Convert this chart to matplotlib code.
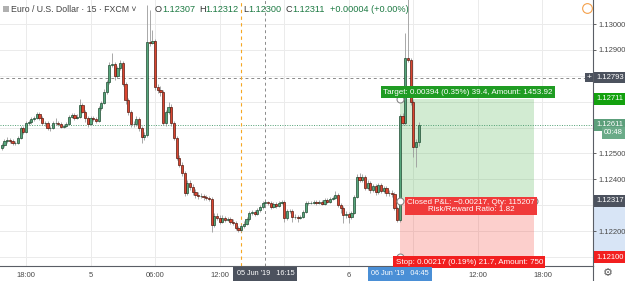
import numpy as np
import pandas as pd
import matplotlib
matplotlib.use("Agg")
import matplotlib.pyplot as plt
import matplotlib.transforms as mtransforms
from matplotlib.patches import Rectangle
from matplotlib.lines import Line2D

plt.rcParams['font.family'] = ['Liberation Sans', 'DejaVu Sans']

# EURUSD 15 min, prices as points (1e-5) above 1.12000, first bar 04 Jun 15:45
base = 1.12
opens = [521, 533, 548, 552, 548, 541, 541, 560, 598,
         583, 618, 622, 633, 637, 653, 637, 618, 618, 598,
         598, 618, 618, 614, 602, 606, 614, 641, 649, 637,
         641, 687, 660, 637, 614, 637, 633, 625, 676, 695,
         737, 776, 842, 846, 799, 830, 849, 768, 707, 660,
         614, 614, 633, 598, 564, 571, 931, 927, 934, 757,
         745, 737, 618, 660, 680, 618, 560, 483, 456, 425,
         347, 386, 371, 351, 340, 336, 336, 332, 328, 324,
         224, 259, 251, 236, 251, 243, 247, 236, 232, 212,
         205, 220, 228, 247, 270, 274, 266, 282, 293, 307,
         311, 309, 293, 305, 297, 309, 313, 251, 278, 278,
         255, 255, 251, 255, 274, 309, 309, 309, 313, 309,
         313, 305, 320, 313, 324, 328, 340, 301, 290, 263,
         266, 255, 270, 332, 409, 398, 409, 367, 386, 359,
         375, 351, 378, 355, 367, 347, 347, 344, 290, 243,
         645, 618, 869, 861, 699, 525, 544]
highs = [541, 556, 564, 560, 556, 548, 568, 606, 606,
         625, 629, 641, 645, 660, 660, 645, 625, 625, 606,
         625, 637, 625, 622, 614, 622, 649, 656, 656, 653,
         710, 695, 668, 645, 645, 645, 641, 683, 703, 749,
         784, 853, 888, 853, 838, 861, 857, 776, 714, 668,
         625, 645, 641, 606, 583, 1073, 1054, 977, 942, 768,
         761, 745, 668, 699, 691, 625, 568, 494, 467, 432,
         398, 398, 382, 363, 351, 347, 344, 340, 336, 332,
         270, 270, 263, 263, 259, 255, 255, 247, 239, 220,
         228, 239, 255, 278, 282, 282, 290, 301, 317, 312,
         317, 317, 313, 313, 317, 320, 320, 286, 286, 286,
         266, 263, 263, 282, 317, 317, 317, 320, 320, 320,
         320, 328, 328, 332, 336, 355, 347, 309, 297, 278,
         274, 278, 340, 421, 425, 421, 417, 398, 394, 382,
         382, 386, 386, 375, 375, 359, 359, 351, 297, 653,
         656, 965, 1131, 869, 707, 556, 622]
lows = [514, 525, 541, 541, 533, 533, 537, 556, 575,
        579, 610, 614, 625, 633, 629, 610, 606, 591, 587,
        595, 610, 606, 598, 598, 602, 610, 637, 629, 633,
        637, 656, 622, 602, 610, 625, 618, 622, 668, 691,
        730, 768, 834, 784, 791, 822, 761, 691, 649, 602,
        602, 606, 587, 541, 552, 564, 915, 923, 745, 734,
        722, 610, 606, 653, 606, 552, 475, 448, 413, 336,
        340, 359, 340, 328, 324, 328, 320, 320, 317, 197,
        216, 243, 228, 232, 236, 239, 228, 224, 205, 197,
        197, 212, 224, 239, 263, 259, 263, 274, 286, 300,
        301, 286, 290, 290, 293, 305, 236, 243, 270, 236,
        247, 236, 247, 251, 270, 301, 305, 305, 301, 305,
        301, 301, 309, 309, 320, 324, 293, 270, 232, 251,
        232, 247, 266, 328, 390, 390, 359, 359, 347, 351,
        340, 344, 347, 347, 336, 336, 332, 282, 236, 236,
        610, 610, 853, 687, 487, 448, 529]
closes = [533, 548, 552, 548, 541, 541, 560, 598, 583,
          618, 622, 633, 637, 653, 637, 618, 618, 598, 598,
          618, 618, 614, 602, 606, 614, 641, 649, 637, 641,
          687, 660, 637, 614, 637, 633, 625, 676, 695, 737,
          776, 842, 846, 799, 830, 849, 768, 707, 660, 614,
          614, 633, 598, 564, 571, 931, 927, 934, 757, 745,
          737, 618, 660, 680, 618, 560, 483, 456, 425, 347,
          386, 371, 351, 340, 336, 336, 332, 328, 324, 224,
          259, 251, 236, 251, 243, 247, 236, 232, 212, 205,
          220, 228, 247, 270, 274, 266, 282, 293, 309, 311,
          309, 293, 305, 297, 309, 313, 251, 278, 278, 255,
          255, 251, 255, 274, 309, 309, 309, 313, 309, 313,
          305, 320, 313, 324, 328, 340, 301, 290, 263, 266,
          255, 270, 332, 409, 398, 409, 367, 386, 359, 375,
          351, 378, 355, 367, 347, 347, 344, 290, 243, 645,
          618, 869, 861, 699, 525, 544, 611]

time_labels = ['18:00', '5', '06:00', '12:00', '6', '12:00', '18:00']
time_label_at = ['2019-06-04 18:00', '2019-06-05 00:00', '2019-06-05 06:00', '2019-06-05 12:00',
                 '2019-06-06 00:00', '2019-06-06 12:00', '2019-06-06 18:00']
price_ticks = [1.13000, 1.12900, 1.12500, 1.12400, 1.12200]

# long position tool
entry, target, stop = 1.12317, 1.12711, 1.12100
pos_start, pos_end = '2019-06-06 04:45', '2019-06-06 17:15'
last_price = 1.12611
cross_price, cross_time = 1.12793, '2019-06-05 16:15'

o = base + np.array(opens) / 1e5
h = base + np.array(highs) / 1e5
l = base + np.array(lows) / 1e5
c = base + np.array(closes) / 1e5

t0 = pd.Timestamp('2019-06-04 15:45')
step = pd.Timedelta('15min')


def pos(ts):
    return (pd.Timestamp(ts) - t0) / step


x = np.arange(len(c))
up = c >= o

W, H = 625, 281
fig = plt.figure(figsize=(W / 100, H / 100), dpi=100)
ax = fig.add_axes([0, 15 / H, 593 / W, 266 / H])
ax.set_xlim(-0.67, 219.8)
ax.set_ylim(1.120656, 1.130927)

# grid
for p in np.arange(1.121, 1.1305, 0.001):
    ax.axhline(p, color='#ebebeb', lw=0.7, zorder=0)
for t in pd.date_range('2019-06-04 18:00', '2019-06-06 18:00', freq='6h'):
    ax.axvline(pos(t), color='#ebebeb', lw=0.7, zorder=0)

# position areas
p0, p1 = pos(pos_start), pos(pos_end)
ax.add_patch(Rectangle((p0, entry), p1 - p0, target - entry, fc=(0.30, 0.69, 0.31, 0.25), ec='none', zorder=1))
ax.add_patch(Rectangle((p0, stop), p1 - p0, entry - stop, fc=(0.96, 0.26, 0.21, 0.25), ec='none', zorder=1))

# lines
ax.axhline(last_price, color='#4f9e72', ls=(0, (1, 1.5)), lw=0.7, zorder=1.5)
ax.axhline(cross_price, color='#8a8a8a', ls=(0, (3, 3)), lw=0.7, zorder=1.5)
ax.axvline(pos(cross_time), color='#8a8a8a', ls=(0, (3, 3)), lw=0.7, zorder=1.5)
ax.axvline(pos('2019-06-05 14:00'), color='#f5a623', ls=(0, (3, 3)), lw=0.8, zorder=1.5)

# candles
ax.vlines(x, l, h, color='#9a9a9a', lw=0.6, zorder=2)
ax.bar(x[up], (c - o)[up], bottom=o[up], width=0.8, color='#56a67c', edgecolor='#1f4a31', lw=0.5, zorder=3)
ax.bar(x[~up], (c - o)[~up], bottom=o[~up], width=0.8, color='#dc4530', edgecolor='#561a10', lw=0.5, zorder=3)

# handles
ax.plot([p0, p0, p1, p0], [target, entry, entry, stop], 'o', ms=5, mfc='white', mec='#888888',
        mew=0.8, zorder=6, clip_on=False)

ax.text(173.4, 1.12737, 'Target: 0.00394 (0.35%) 39.4, Amount: 1453.92', ha='center', va='center',
        fontsize=5.8, color='white', zorder=7,
        bbox=dict(boxstyle='square,pad=0.3', fc='#1f9c23', ec='none'))
ax.text(174.5, 1.12297, 'Closed P&L: \u22120.00217, Qty: 115207\nRisk/Reward Ratio: 1.82', ha='center',
        va='center', fontsize=5.8, color='white', zorder=7, linespacing=0.95,
        bbox=dict(boxstyle='square,pad=0.25', fc='#f03a3a', ec='none'))
ax.text(173.8, 1.12081, 'Stop: 0.00217 (0.19%) 21.7, Amount: 750', ha='center', va='center',
        fontsize=5.8, color='white', zorder=7, clip_on=False,
        bbox=dict(boxstyle='square,pad=0.3', fc='#f21f1f', ec='none'))

# axes look
for s in ['top', 'left']:
    ax.spines[s].set_visible(False)
for s in ['right', 'bottom']:
    ax.spines[s].set_color('#5a5e66')
    ax.spines[s].set_linewidth(0.8)

ax.yaxis.tick_right()
ax.set_yticks(price_ticks)
ax.set_yticklabels(['%.5f' % p for p in price_ticks])
ax.tick_params(axis='y', labelsize=5.5, colors='#4a4a4a', length=2, pad=2, width=0.6)
ax.set_xticks([pos(t) for t in time_label_at])
ax.set_xticklabels(time_labels)
ax.tick_params(axis='x', labelsize=5.5, colors='#4a4a4a', length=0, pad=4)

# price axis marks
ty = mtransforms.blended_transform_factory(ax.transAxes, ax.transData)
ax.add_patch(Rectangle((1.0, stop), 32 / 593, entry - stop, transform=ty, fc='#d8e5f6', ec='none',
                       clip_on=False, zorder=0.5))


def price_tag(price, text, fc, px=3):
    ax.text(1.0 + px / 593, price, text, transform=ty, ha='left', va='center', fontsize=5.5,
            color='white', zorder=8, clip_on=False,
            bbox=dict(boxstyle='square,pad=0.3', fc=fc, ec='none'))


price_tag(cross_price, '%.5f' % cross_price, '#4c525e')
price_tag(target, '%.5f' % target, '#13a10e')
price_tag(last_price, '%.5f' % last_price, '#5c9f7b')
price_tag(1.12580, '00:48', '#6aab88', px=11)
price_tag(entry, '%.5f' % entry, '#4c525e')
price_tag(stop, '%.5f' % stop, '#f21f1f')
ax.text(1.0 - 4 / 593, cross_price, '+', transform=ty, ha='center', va='center', fontsize=6,
        color='white', zorder=8, clip_on=False, bbox=dict(boxstyle='square,pad=0.15', fc='#4c525e', ec='none'))

# time axis marks
tx = mtransforms.blended_transform_factory(ax.transData, ax.transAxes)
ax.text(pos(cross_time), -0.03, "05 Jun '19   16:15", transform=tx, ha='center', va='center',
        fontsize=5.2, color='white', clip_on=False, zorder=8,
        bbox=dict(boxstyle='square,pad=0.45', fc='#4c525e', ec='none'))
ax.text(pos(pos_start), -0.03, "06 Jun '19   04:45", transform=tx, ha='center', va='center',
        fontsize=5.2, color='white', clip_on=False, zorder=8,
        bbox=dict(boxstyle='square,pad=0.45', fc='#4a8fd6', ec='none'))

fig.add_artist(Line2D([593 / W, 593 / W], [0, 15 / H], color='#5a5e66', lw=0.8, transform=fig.transFigure))
fig.text(608 / W, 1 - 273 / H, '\u2699', fontsize=8, color='#555555', ha='center', va='center',
         family='DejaVu Sans')

# header legend
fig.add_artist(Rectangle((3 / W, 1 - 12 / H), 6 / W, 6 / H, fc='#b0b0b0', ec='none', transform=fig.transFigure))
r = fig.canvas.get_renderer()


def run_text(px, py, parts, size=6.6):
    for s, col in parts:
        t = fig.text(px / W, 1 - py / H, s, color=col, fontsize=size, va='center')
        px += t.get_window_extent(renderer=r).width
    return px


run_text(11, 9, [('Euro / U.S. Dollar \u00b7 15 \u00b7 FXCM', '#444444'), (' \u02c5', '#444444')], size=6.3)
dark, green = '#333333', '#1d7a43'
run_text(155, 9, [('O', dark), ('1.12307', green)])
run_text(199, 9, [('H', dark), ('1.12312', green)])
run_text(243, 9, [('L', dark), ('1.12300', green)])
run_text(286, 9, [('C', dark), ('1.12311', green), ('  +0.00004 (+0.00%)', green)])

fig.add_artist(Line2D([587 / W], [1 - 8 / H], marker='o', ms=7, mfc='none', mec='#f5a04a', mew=0.8,
                      transform=fig.transFigure))

fig.savefig('out.png', dpi=100)
